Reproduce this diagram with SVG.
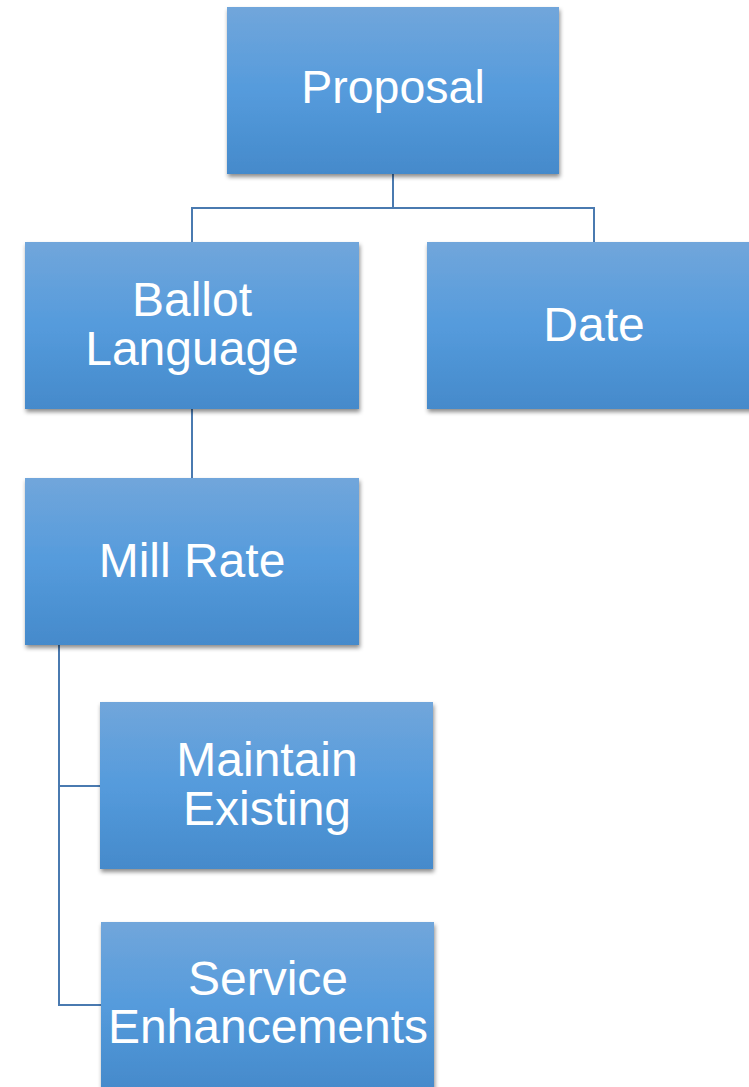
<svg xmlns="http://www.w3.org/2000/svg" width="749" height="1087" viewBox="0 0 749 1087">
<defs>
<linearGradient id="g" x1="0" y1="0" x2="0" y2="1">
<stop offset="0" stop-color="#71a6db"/>
<stop offset="0.5" stop-color="#559bdc"/>
<stop offset="1" stop-color="#458acb"/>
</linearGradient>
<filter id="sh" x="-5%" y="-5%" width="110%" height="115%">
<feDropShadow dx="1" dy="3" stdDeviation="2" flood-color="#000" flood-opacity="0.45"/>
</filter>
<style>
.box{fill:url(#g);filter:url(#sh)}
.t{font-family:"Liberation Sans",Arial,sans-serif;font-size:48px;fill:#fff;text-anchor:middle}
.c{fill:none;stroke:#4a7ab0;stroke-width:2}
</style>
</defs>
<rect width="749" height="1087" fill="#fff"/>
<g id="connectors">
<path class="c" d="M393 174 V208 M192 242 V208 H594 V242"/>
<path class="c" d="M192 409 V478"/>
<path class="c" d="M59 645 V1005 H101 M59 786 H100"/>
</g>
<g id="proposal">
<rect class="box" x="227" y="7" width="332" height="167"/>
<text class="t" x="393" y="103" style="font-size:46.5px">Proposal</text>
</g>
<g id="ballot">
<rect class="box" x="25" y="242" width="334" height="167"/>
<text class="t" x="192" y="316">Ballot</text>
<text class="t" x="192" y="365">Language</text>
</g>
<g id="date">
<rect class="box" x="427" y="242" width="334" height="167"/>
<text class="t" x="594" y="341">Date</text>
</g>
<g id="millrate">
<rect class="box" x="25" y="478" width="334" height="167"/>
<text class="t" x="192" y="577">Mill Rate</text>
</g>
<g id="maintain">
<rect class="box" x="100" y="702" width="333" height="167"/>
<text class="t" x="267" y="776">Maintain</text>
<text class="t" x="267" y="825">Existing</text>
</g>
<g id="service">
<rect class="box" x="101" y="922" width="333" height="167"/>
<text class="t" x="268" y="995">Service</text>
<text class="t" x="268" y="1043">Enhancements</text>
</g>
</svg>
